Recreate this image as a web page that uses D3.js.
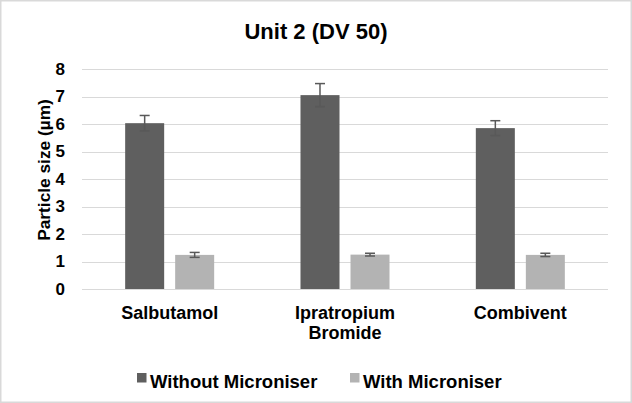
<!DOCTYPE html>
<html>
<head>
<meta charset="utf-8">
<script src="https://cdn.jsdelivr.net/npm/d3@7"></script>
<style>
  html, body { margin: 0; padding: 0; background: #fff; }
  svg { display: block; font-family: "Liberation Sans", Arial, sans-serif; font-weight: bold; }
</style>
</head>
<body>
<svg id="chart" width="632" height="403"></svg>
<script>
const categories = [["Salbutamol"], ["Ipratropium", "Bromide"], ["Combivent"]];
const seriesNames = ["Without Microniser", "With Microniser"];
const withoutValues = [6.03, 7.05, 5.85];
const withoutErrors = [0.28, 0.42, 0.27];
const withValues = [1.24, 1.25, 1.24];
const withErrors = [0.09, 0.05, 0.06];
const yTicks = [0, 1, 2, 3, 4, 5, 6, 7, 8];
const colors = ["#5f5f5f", "#b3b3b3"];

const svg = d3.select("#chart");
const W = 632, H = 403;

svg.append("rect").attr("x", 0.75).attr("y", 0.75).attr("width", W - 1.5).attr("height", H - 1.5)
  .attr("fill", "#fff").attr("stroke", "#d9d9d9").attr("stroke-width", 1.5);

const catKeys = categories.map(c => c.join(" "));
const x = d3.scaleBand().domain(catKeys).range([82, 608]).padding(0);
const xs = d3.scaleBand().domain(seriesNames).range([0, x.bandwidth()]).paddingInner(0.22).paddingOuter(0.863);
const y = d3.scaleLinear().domain([0, 8]).range([289, 69]);

// gridlines
svg.append("g").selectAll("line").data(yTicks).join("line")
  .attr("x1", 82).attr("x2", 608)
  .attr("y1", d => Math.round(y(d)) + 0.5).attr("y2", d => Math.round(y(d)) + 0.5)
  .attr("stroke", "#d9d9d9").attr("stroke-width", 1);

// y axis tick labels
const yAxis = d3.axisLeft(y).tickValues(yTicks).tickSize(0).tickPadding(0).tickFormat(d3.format("d"));
const yg = svg.append("g").attr("transform", "translate(65,0)").call(yAxis);
yg.select(".domain").remove();
yg.selectAll("text").attr("font-size", 17).attr("font-family", "'Liberation Sans', Arial, sans-serif")
  .attr("font-weight", "bold").attr("fill", "#000");

const data = catKeys.map((k, i) => ({
  key: k,
  series: [
    { name: seriesNames[0], v: withoutValues[i], e: withoutErrors[i] },
    { name: seriesNames[1], v: withValues[i], e: withErrors[i] }
  ]
}));

const groups = svg.append("g").selectAll("g").data(data).join("g")
  .attr("transform", d => `translate(${x(d.key)},0)`);

groups.selectAll("rect").data(d => d.series).join("rect")
  .attr("x", d => xs(d.name)).attr("width", xs.bandwidth())
  .attr("y", d => y(d.v)).attr("height", d => y(0) - y(d.v))
  .attr("fill", (d, i) => colors[i]);

// error bars
const eb = groups.selectAll("g.eb").data(d => d.series).join("g").attr("class", "eb")
  .attr("stroke", "#595959").attr("stroke-width", 1.5);
eb.append("line")
  .attr("x1", d => xs(d.name) + xs.bandwidth() / 2).attr("x2", d => xs(d.name) + xs.bandwidth() / 2)
  .attr("y1", d => y(d.v + d.e)).attr("y2", d => y(d.v - d.e));
eb.append("line")
  .attr("x1", d => xs(d.name) + xs.bandwidth() / 2 - 5).attr("x2", d => xs(d.name) + xs.bandwidth() / 2 + 5)
  .attr("y1", d => y(d.v + d.e)).attr("y2", d => y(d.v + d.e));
eb.append("line")
  .attr("x1", d => xs(d.name) + xs.bandwidth() / 2 - 5).attr("x2", d => xs(d.name) + xs.bandwidth() / 2 + 5)
  .attr("y1", d => y(d.v - d.e)).attr("y2", d => y(d.v - d.e));

// category labels
const xAxis = d3.axisBottom(x).tickSize(0).tickPadding(0);
const xg = svg.append("g").attr("transform", "translate(0,289)").call(xAxis);
xg.select(".domain").remove();
xg.selectAll(".tick text").each(function(d, i) {
  const t = d3.select(this);
  t.text(null).attr("y", 0).attr("dy", null)
    .attr("font-size", 18).attr("font-family", "'Liberation Sans', Arial, sans-serif")
    .attr("font-weight", "bold").attr("fill", "#000");
  categories[i].forEach((line, j) => {
    t.append("tspan").attr("x", 0).attr("y", 30 + j * 20).text(line);
  });
});

// title
svg.append("text").attr("x", 316).attr("y", 39).attr("text-anchor", "middle")
  .attr("font-size", 22).attr("fill", "#000").text("Unit 2 (DV 50)");

// y label
svg.append("text").attr("transform", "translate(50,170) rotate(-90)").attr("text-anchor", "middle")
  .attr("font-size", 17.3).attr("fill", "#000").text("Particle size (µm)");

// legend
const legendItems = [{ name: seriesNames[0], x: 137 }, { name: seriesNames[1], x: 350 }];
const lg = svg.append("g").selectAll("g").data(legendItems).join("g")
  .attr("transform", d => `translate(${d.x},0)`);
lg.append("rect").attr("x", 0).attr("y", 373).attr("width", 9.5).attr("height", 9.5)
  .attr("fill", (d, i) => colors[i]);
lg.append("text").attr("x", 13).attr("y", 387.5).attr("font-size", 18.5).attr("fill", "#000")
  .text(d => d.name);
</script>
</body>
</html>
